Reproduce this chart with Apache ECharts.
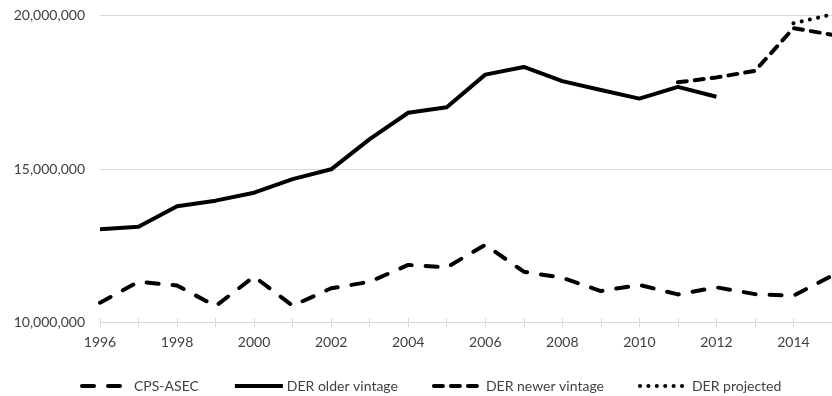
<!DOCTYPE html>
<html>
<head>
<meta charset="utf-8">
<script src="https://cdn.jsdelivr.net/npm/echarts@6/dist/echarts.min.js"></script>
<style>
  html, body { margin: 0; padding: 0; background: #fff; }
  #chart { width: 832px; height: 396px; }
</style>
</head>
<body>
<div id="chart"></div>
<script>
const years = ['1996','1997','1998','1999','2000','2001','2002','2003','2004','2005','2006','2007','2008','2009','2010','2011','2012','2013','2014','2015'];
const cpsAsec = [10650000, 11330000, 11210000, 10540000, 11500000, 10550000, 11120000, 11330000, 11880000, 11800000, 12530000, 11660000, 11460000, 11030000, 11230000, 10920000, 11150000, 10930000, 10880000, 11530000];
const derOlder = [13040000, 13120000, 13790000, 13970000, 14230000, 14670000, 14990000, 15970000, 16830000, 17010000, 18070000, 18320000, 17860000, 17570000, 17290000, 17670000, 17350000, null, null, null];
const derNewer = [null, null, null, null, null, null, null, null, null, null, null, null, null, null, null, 17820000, 17980000, 18190000, 19580000, 19370000];
const derProjected = [null, null, null, null, null, null, null, null, null, null, null, null, null, null, null, null, null, null, 19740000, 20030000];
const seriesNames = ['CPS-ASEC', 'DER older vintage', 'DER newer vintage', 'DER projected'];

const FONT = 'Lato';
const TXT = '#404040';
const chart = echarts.init(document.getElementById('chart'), null, { renderer: 'canvas' });

function lineSeries(name, data, type, cap) {
  return {
    name: name, type: 'line', data: data, symbol: 'none', showSymbol: false,
    clip: false, animation: false, connectNulls: false,
    lineStyle: { color: '#000', width: 4, type: type, cap: cap || 'butt', join: 'round' },
    itemStyle: { color: '#000' }
  };
}

chart.setOption({
  animation: false,
  grid: { left: 100, right: -2.3, top: 15.3, bottom: 73.3, containLabel: false },
  legend: {
    left: 75, top: 374, itemWidth: 48, itemHeight: 14, itemGap: 34,
    itemStyle: { color: 'rgba(0,0,0,0)', borderColor: 'rgba(0,0,0,0)', borderWidth: 0, opacity: 0 },
    lineStyle: { width: 4 },
    textStyle: { fontFamily: FONT, fontSize: 14, color: TXT, padding: [0, 0, 0, -1] },
    data: seriesNames
  },
  xAxis: [{
    type: 'category', data: years, boundaryGap: false,
    axisLine: { show: true, lineStyle: { color: '#d9d9d9', width: 1 } },
    axisTick: { show: true, interval: 0, length: 4.5, lineStyle: { color: '#d9d9d9' } },
    axisLabel: { interval: 1, margin: 13, fontFamily: FONT, fontSize: 14, color: TXT },
    splitLine: { show: false }
  }, {
    type: 'category', data: years, boundaryGap: false, position: 'bottom',
    axisLine: { show: false },
    axisTick: { show: true, inside: true, interval: 0, length: 4.5, lineStyle: { color: '#d9d9d9' } },
    axisLabel: { show: false },
    splitLine: { show: false }
  }],
  yAxis: {
    type: 'value', min: 10000000, max: 20000000, interval: 5000000,
    axisLine: { show: false }, axisTick: { show: false },
    axisLabel: {
      margin: 15, fontFamily: FONT, fontSize: 14, color: TXT,
      formatter: v => v.toLocaleString('en-US')
    },
    splitLine: { show: true, lineStyle: { color: '#d9d9d9', width: 1 } }
  },
  series: [
    lineSeries(seriesNames[0], cpsAsec, [12, 14], 'round'),
    lineSeries(seriesNames[1], derOlder, 'solid', 'butt'),
    lineSeries(seriesNames[2], derNewer, [9, 8], 'round'),
    lineSeries(seriesNames[3], derProjected, [0.1, 8.3], 'round')
  ]
});
</script>
</body>
</html>
